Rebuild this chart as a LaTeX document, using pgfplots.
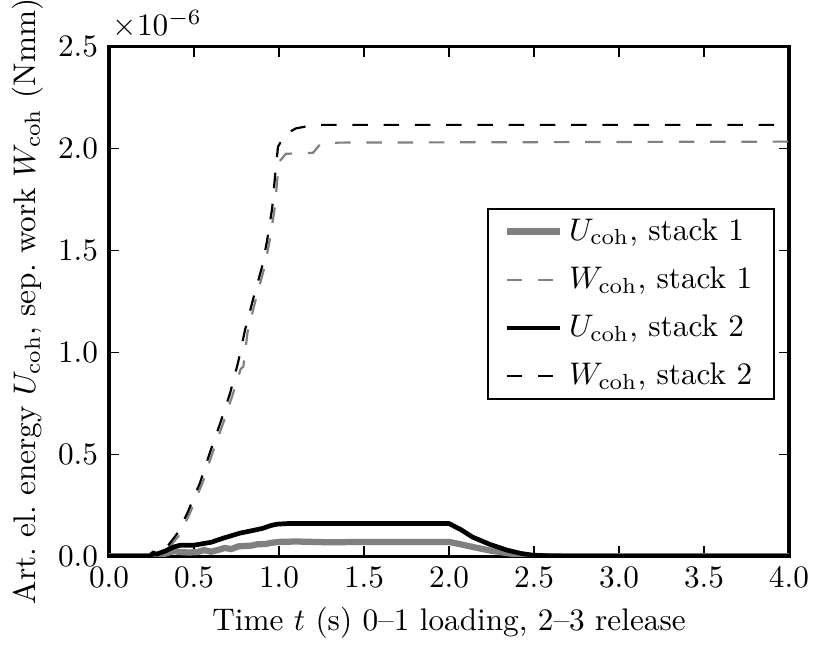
\documentclass[border=0pt]{standalone}
\usepackage{pgfplots}
\pgfplotsset{compat=1.18}
\definecolor{midgray}{RGB}{128,128,128}
\begin{document}
\begin{tikzpicture}
\begin{axis}[
    name=ax,
    scale only axis,
    width=217.6pt,
    height=163pt,
    xmin=0, xmax=4,
    ymin=0, ymax=2.5e-6,
    xtick={0,0.5,...,4},
    ytick={0,5e-7,1e-6,1.5e-6,2e-6,2.5e-6},
    scaled y ticks=base 10:6,
    ytick scale label code/.code={$\times10^{-6}$},
    every y tick scale label/.style={at={(rel axis cs:0,1)},anchor=south west,inner sep=1pt,yshift=1.5pt},
    xticklabel style={/pgf/number format/fixed,/pgf/number format/fixed zerofill,/pgf/number format/precision=1},
    yticklabel style={/pgf/number format/fixed,/pgf/number format/fixed zerofill,/pgf/number format/precision=1},
    tick align=inside,
    major tick length=3.2pt,
    every tick/.style={black,line width=0.5pt},
    axis line style={line width=1pt},
    xlabel={Time $t$ (s) 0--1 loading, 2--3 release},
    ylabel={Art.\ el.\ energy $U_\mathrm{coh}$, sep.\ work $W_\mathrm{coh}$ (Nmm)},
    xlabel style={yshift=0.5pt},
    ylabel style={yshift=-2pt},
    legend style={at={(0.98,0.684)},anchor=north east,draw=black,line width=0.8pt,
        row sep=3pt,inner xsep=5pt,inner ysep=1pt,
        /tikz/every even column/.append style={column sep=3pt}},
    legend cell align=left,
    legend image code/.code={\draw[#1] (0pt,0pt) -- (17pt,0pt);},
]
\addplot[midgray,line width=2pt] coordinates {
(0,0) (0.27,0) (0.32,0.01e-6) (0.38,0.025e-6) (0.42,0.02e-6) (0.47,0.018e-6)
(0.52,0.02e-6) (0.56,0.03e-6) (0.60,0.022e-6) (0.64,0.03e-6) (0.68,0.04e-6)
(0.72,0.035e-6) (0.76,0.048e-6) (0.80,0.05e-6) (0.84,0.052e-6) (0.87,0.058e-6)
(0.92,0.06e-6) (0.96,0.066e-6) (1.0,0.07e-6) (1.1,0.072e-6) (1.3,0.068e-6)
(1.5,0.07e-6) (1.7,0.07e-6) (2.0,0.07e-6) (2.07,0.058e-6) (2.14,0.045e-6)
(2.24,0.028e-6) (2.34,0.015e-6) (2.42,0.006e-6) (2.5,0) (4.0,0)
};
\addlegendentry{$U_\mathrm{coh}$, stack 1}
\addplot[midgray,line width=0.7pt,dash pattern=on 5pt off 5pt] coordinates {
(0,0) (0.26,0) (0.31,0.015e-6) (0.36,0.05e-6) (0.41,0.10e-6) (0.47,0.20e-6)
(0.55,0.36e-6) (0.61,0.51e-6) (0.67,0.65e-6) (0.73,0.80e-6) (0.775,0.92e-6)
(0.79,0.93e-6) (0.815,1.10e-6) (0.86,1.25e-6) (0.915,1.42e-6) (0.945,1.55e-6)
(0.975,1.71e-6) (0.99,1.85e-6) (1.005,1.94e-6) (1.04,1.975e-6) (1.20,1.98e-6)
(1.24,2.02e-6) (1.35,2.03e-6) (4.0,2.035e-6)
};
\addlegendentry{$W_\mathrm{coh}$, stack 1}
\addplot[black,line width=1.5pt] coordinates {
(0,0) (0.24,0) (0.26,0.015e-6) (0.28,0.01e-6) (0.33,0.025e-6) (0.38,0.045e-6)
(0.42,0.054e-6) (0.50,0.054e-6) (0.60,0.068e-6) (0.67,0.088e-6) (0.77,0.113e-6)
(0.84,0.125e-6) (0.906,0.137e-6) (0.95,0.15e-6) (0.988,0.157e-6) (1.05,0.16e-6)
(2.0,0.16e-6) (2.07,0.13e-6) (2.14,0.093e-6) (2.24,0.058e-6) (2.34,0.03e-6)
(2.42,0.014e-6) (2.49,0.005e-6) (2.6,0.001e-6) (2.7,0) (4.0,0)
};
\addlegendentry{$U_\mathrm{coh}$, stack 2}
\addplot[black,line width=0.7pt,dash pattern=on 5pt off 5pt] coordinates {
(0,0) (0.25,0) (0.30,0.02e-6) (0.35,0.055e-6) (0.40,0.11e-6) (0.46,0.21e-6)
(0.535,0.36e-6) (0.594,0.51e-6) (0.653,0.65e-6) (0.712,0.80e-6) (0.759,0.95e-6)
(0.80,1.11e-6) (0.847,1.26e-6) (0.90,1.42e-6) (0.93,1.55e-6) (0.96,1.71e-6)
(0.976,1.86e-6) (0.994,2.01e-6) (1.035,2.07e-6) (1.10,2.10e-6) (1.165,2.11e-6)
(1.25,2.117e-6) (4.0,2.117e-6)
};
\addlegendentry{$W_\mathrm{coh}$, stack 2}
\end{axis}
\pgfresetboundingbox
\path[use as bounding box] ([xshift=-34.9pt,yshift=-29.4pt]ax.south west) rectangle ([xshift=7.7pt,yshift=15pt]ax.north east);
\end{tikzpicture}
\end{document}
